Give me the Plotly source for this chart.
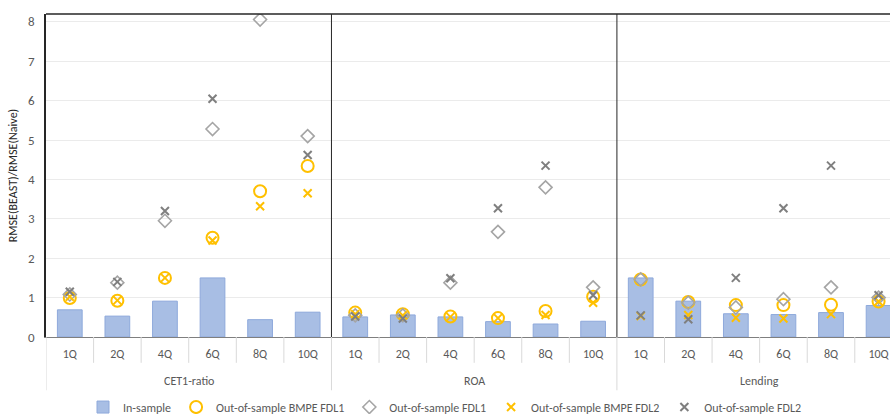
import plotly.graph_objects as go

quarters = ["1Q", "2Q", "4Q", "6Q", "8Q", "10Q"]
groups = ["CET1-ratio", "ROA", "Lending"]

in_sample = [0.69, 0.53, 0.91, 1.50, 0.44, 0.63,
             0.51, 0.56, 0.51, 0.39, 0.33, 0.40,
             1.50, 0.91, 0.59, 0.57, 0.62, 0.80]
bmpe_fdl1 = [0.99, 0.92, 1.50, 2.52, 3.70, 4.34,
             0.62, 0.58, 0.52, 0.48, 0.66, 1.02,
             1.46, 0.89, 0.81, 0.81, 0.82, 0.90]
fdl1 = [1.08, 1.38, 2.95, 5.28, 8.06, 5.10,
        0.55, 0.55, 1.38, 2.67, 3.80, 1.26,
        1.46, 0.87, 0.75, 0.96, 1.26, 1.00]
bmpe_fdl2 = [1.02, 0.93, 1.50, 2.45, 3.32, 3.65,
             0.58, 0.55, 0.51, 0.48, 0.56, 0.87,
             0.53, 0.56, 0.49, 0.47, 0.58, 0.90]
fdl2 = [1.15, 1.40, 3.20, 6.05, None, 4.62,
        0.52, 0.47, 1.49, 3.27, 4.35, 1.06,
        0.55, 0.45, 1.50, 3.27, 4.35, 1.06]

FONT = "Carlito, 'Liberation Sans Narrow', 'Open Sans', sans-serif"
n_q = len(quarters)
xs = list(range(n_q * len(groups)))
ticktext = quarters * len(groups)

fig = go.Figure()
fig.add_trace(go.Bar(x=xs, y=in_sample, name="In-sample", width=0.52,
                     marker=dict(color="#A8BEE4", line=dict(color="#8EA9DB", width=1))))
fig.add_trace(go.Scatter(x=xs, y=bmpe_fdl1, mode="markers", name="Out-of-sample BMPE FDL1",
                         marker=dict(symbol="circle-open", size=12, color="#FFC000",
                                     line=dict(width=2, color="#FFC000"))))
fig.add_trace(go.Scatter(x=xs, y=fdl1, mode="markers", name="Out-of-sample FDL1",
                         marker=dict(symbol="diamond-open", size=10, color="#A5A5A5",
                                     line=dict(width=1.6, color="#A5A5A5"))))
fig.add_trace(go.Scatter(x=xs, y=bmpe_fdl2, mode="markers", name="Out-of-sample BMPE FDL2",
                         marker=dict(symbol="x-thin-open", size=8, color="#FFC000",
                                     line=dict(width=2, color="#FFC000"))))
fig.add_trace(go.Scatter(x=xs, y=fdl2, mode="markers", name="Out-of-sample FDL2",
                         marker=dict(symbol="x-thin-open", size=8, color="#7F7F7F",
                                     line=dict(width=2, color="#7F7F7F"))))

shapes = []
# top border
shapes.append(dict(type="line", xref="paper", yref="paper", x0=0, x1=1, y0=1, y1=1,
                   line=dict(color="#262626", width=1.5)))
# group separators inside plot
for g in range(1, len(groups)):
    xb = g * n_q - 0.5
    shapes.append(dict(type="line", xref="x", yref="paper", x0=xb, x1=xb, y0=0, y1=1,
                       line=dict(color="#262626", width=1)))
# separators below axis
for k in range(len(xs)):
    xb = k - 0.5
    is_group = (k % n_q == 0)
    shapes.append(dict(type="line", xref="x", yref="paper", x0=xb, x1=xb, y0=0,
                       y1=-0.165 if is_group else -0.08,
                       line=dict(color="#D9D9D9", width=1)))

annotations = []
for g, name in enumerate(groups):
    annotations.append(dict(x=g * n_q + (n_q - 1) / 2, y=-0.136, xref="x", yref="paper",
                            text=name, showarrow=False, yanchor="middle",
                            font=dict(family=FONT, size=12, color="#595959")))

fig.update_layout(
    width=890, height=414,
    margin=dict(l=46, r=0, t=14, b=77, autoexpand=False),
    plot_bgcolor="white", paper_bgcolor="white",
    font=dict(family=FONT, size=12, color="#595959"),
    bargap=0.48,
    shapes=shapes,
    annotations=annotations,
    showlegend=True,
    legend=dict(orientation="h", xref="container", x=0.5, xanchor="center",
                yref="paper", y=-0.172, yanchor="top",
                font=dict(family=FONT, size=12, color="#595959"),
                itemwidth=30, tracegroupgap=0),
    xaxis=dict(range=[-0.5, 17.24], tickmode="array", tickvals=xs, ticktext=ticktext,
               showgrid=False, showline=True, linecolor="#7F7F7F", linewidth=1,
               ticks="", ticklabelstandoff=6, zeroline=False, automargin=False,
               tickfont=dict(family=FONT, size=12, color="#595959")),
    yaxis=dict(range=[0, 8.2], dtick=1, showgrid=True, gridcolor="#EBEBEB", gridwidth=1,
               showline=True, linecolor="#262626", linewidth=1.5, zeroline=False,
               ticks="", ticklabelstandoff=7, automargin=False,
               tickfont=dict(family=FONT, size=13, color="#595959"),
               title=dict(text="RMSE(BEAST)/RMSE(Naive)", standoff=8,
                          font=dict(family=FONT, size=12, color="#262626"))),
)

fig.write_html("out.html", config={"displayModeBar": False})

# remove the default page margin so the figure sits at the window's corner
with open("out.html", "r", encoding="utf-8") as f:
    html = f.read()
html = html.replace("<head>", "<head><style>html,body{margin:0;padding:0;overflow:hidden;}</style>", 1)
with open("out.html", "w", encoding="utf-8") as f:
    f.write(html)
